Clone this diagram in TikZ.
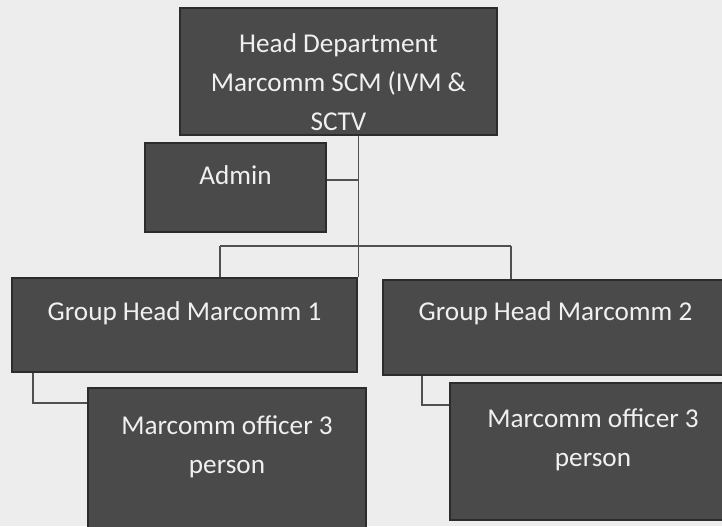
\documentclass[tikz,border=0pt]{standalone}
\usepackage{fontspec}
\setmainfont{Carlito}
\usetikzlibrary{positioning}

\definecolor{paper}{HTML}{EDEDED}
\definecolor{boxfill}{HTML}{4A4A4A}
\definecolor{boxline}{HTML}{2C2C2C}
\definecolor{boxtext}{HTML}{F0F0F0}
\definecolor{linkcol}{HTML}{505050}

\begin{document}
\begin{tikzpicture}[%
	x=0.5pt,y=-0.5pt,on grid,
	orgbox/.style={draw=boxline,line width=1.2pt,fill=boxfill,rectangle,inner sep=0pt},
	orgtext/.style={text=boxtext,align=center,inner sep=0pt,
		font={\fontsize{13.6}{19.5}\selectfont}},
	link/.style={draw=linkcol,line width=0.6pt}]

	\fill[paper] (0,0) rectangle (722,526);
	\clip (0,0) rectangle (722,526);

	\node[orgbox,minimum width=158.5pt,minimum height=63.5pt]	(head)	at (338.5,71.5)	{};
	\node[orgbox,minimum width=90.5pt,minimum height=44.5pt]	(admin)	[below left=58pt and 51.5pt of head]	{};
	\node[orgbox,minimum width=172.5pt,minimum height=47pt]		(gh1)	[below left=126.75pt and 77pt of head]	{};
	\node[orgbox,minimum width=172.5pt,minimum height=47.5pt]	(gh2)	[below right=1.25pt and 185.5pt of gh1]	{};
	\node[orgbox,minimum width=139pt,minimum height=73.5pt]		(off1)	[below right=68.25pt and 21.25pt of gh1]	{};
	\node[orgbox,minimum width=143pt,minimum height=68.5pt]		(off2)	[below right=62pt and 18.75pt of gh2]	{};

	\node[orgtext] (headtext)	at ([yshift=-5.25pt]head.center)	{Head Department\\Marcomm SCM (IVM \&\\SCTV};
	\node[orgtext] (admintext)	at ([yshift=6.25pt]admin.center)	{Admin};
	\node[orgtext] (gh1text)	at ([yshift=6pt]gh1.center)		{Group Head Marcomm 1};
	\node[orgtext] (gh2text)	at ([yshift=7.25pt]gh2.center)	{Group Head Marcomm 2};
	\node[orgtext] (off1text)	at ([yshift=7.25pt]off1.center)	{Marcomm officer 3\\person};
	\node[orgtext] (off2text)	at ([yshift=5.75pt]off2.center)	{Marcomm officer 3\\person};

	% trunk from the head down to the bus
	\coordinate (trunk)	at (gh1.north east |- head.south);
	\coordinate (busl)	at (220,246);
	\coordinate (busr)	at (511,246);
	\coordinate (elbow1)	at (33,403);
	\coordinate (elbow2)	at (422,405);

	\draw[link] (trunk) -- (gh1.north east);
	\draw[link] ([yshift=3.75pt]admin.east) -- ([yshift=3.75pt]admin.east -| trunk);
	\draw[link] (busl) -- (busr);
	\draw[link] (busl) -- (busl |- gh1.north);
	\draw[link] (busr) -- (busr |- gh2.north);
	\draw[link] (elbow1 |- gh1.south) -- (elbow1) -- (elbow1 -| off1.west);
	\draw[link] (elbow2 |- gh2.south) -- (elbow2) -- (elbow2 -| off2.west);

\end{tikzpicture}
\end{document}
